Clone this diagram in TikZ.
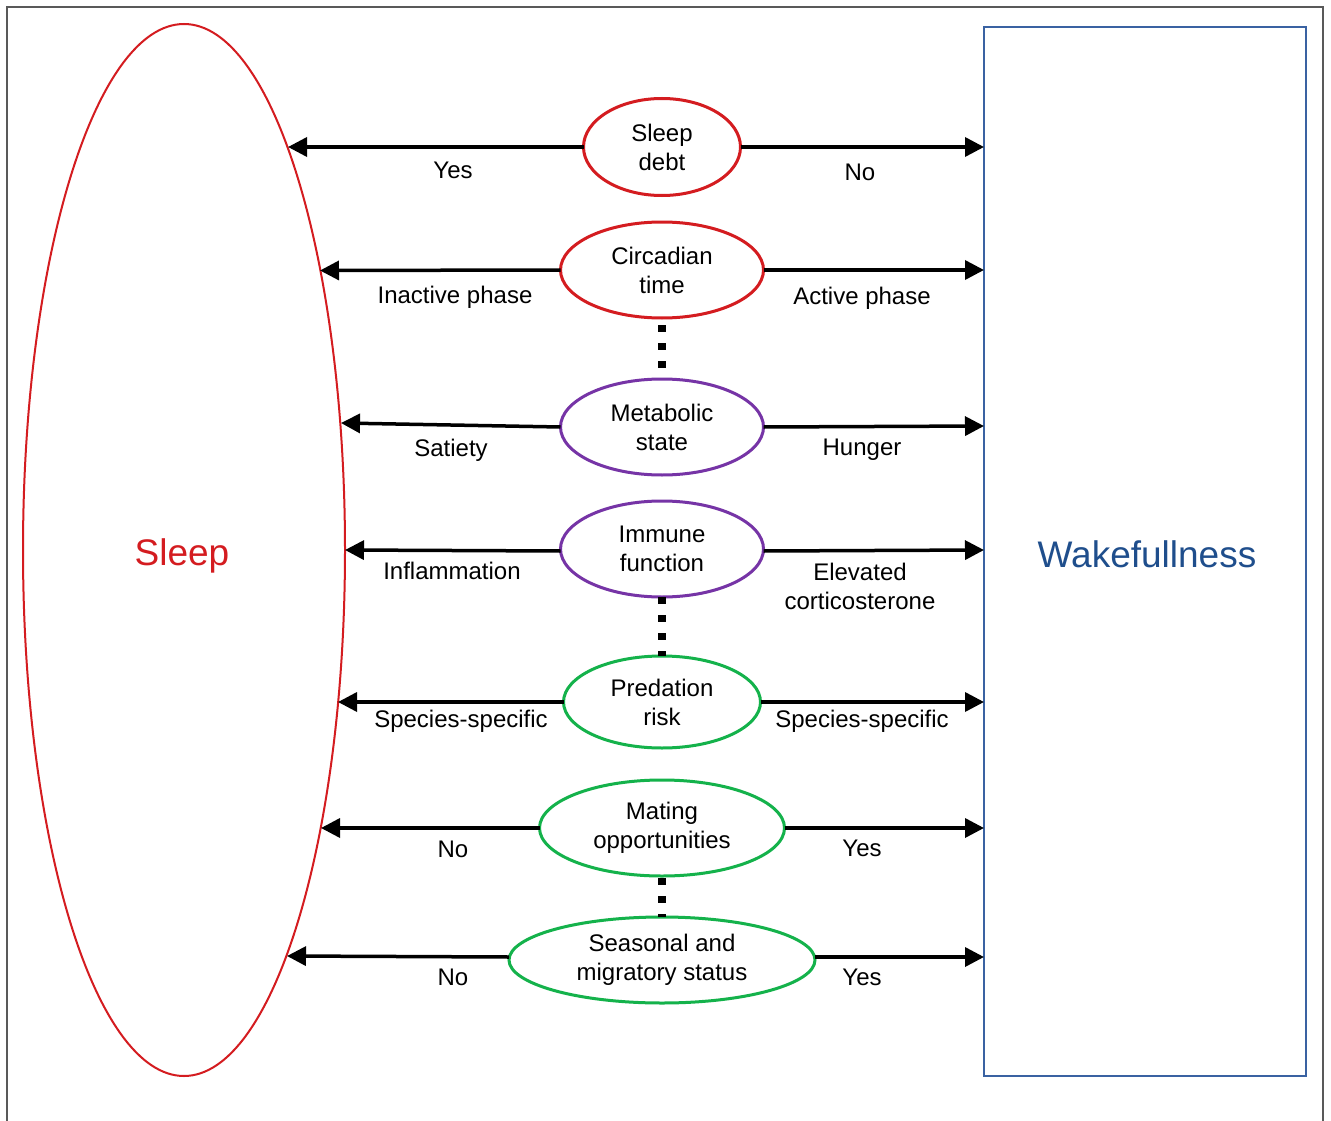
\documentclass[tikz,border=0pt]{standalone}
\usepackage{fontspec}
\setmainfont{Liberation Sans}
\usetikzlibrary{shapes.geometric,arrows.meta}
\definecolor{sred}{RGB}{212,28,32}
\definecolor{spurple}{RGB}{118,52,166}
\definecolor{sgreen}{RGB}{20,178,75}
\definecolor{wblue}{RGB}{58,98,162}
\definecolor{wtext}{RGB}{31,78,140}
\begin{document}
\begin{tikzpicture}[x=1pt,y=-1pt,
  factor/.style={ellipse, draw, line width=3pt, inner sep=0pt, outer sep=0pt, align=center, font=\fontsize{24}{29}\selectfont},
  arr/.style={line width=3.5pt, -{Triangle[length=19pt,width=19pt]}},
  lbl/.style={font=\fontsize{24}{29}\selectfont, inner sep=0pt, align=center},
  biglbl/.style={font=\fontsize{37}{44}\selectfont, inner sep=0pt},
  dotline/.style={line width=8pt, dash pattern=on 7pt off 11pt, dash phase=11pt}]
\useasboundingbox (0,0) rectangle (1331,1121);
\fill[white] (0,0) rectangle (1331,1121);
\draw[black!65, line width=1.3pt] (7,1121) -- (7,7) -- (1323,7) -- (1323,1121);

% big nodes
\node[ellipse, draw=sred, line width=2pt, minimum width=322pt, minimum height=1052pt, inner sep=0pt, outer sep=0pt] (sleep) at (184,550) {};
\node[rectangle, draw=wblue, line width=2.5pt, minimum width=322pt, minimum height=1049pt, inner sep=0pt, outer sep=0pt] (wake) at (1145,551.5) {};
\node[biglbl, text=sred] (sleeplbl) at (182,556) {Sleep};
\node[biglbl, text=wtext] (wakelbl) at (1147,554) {Wakefullness};

% factors
\node[factor, draw=sred, minimum width=157pt, minimum height=97pt] (debt) at (662,147) {Sleep\\debt};
\node[factor, draw=sred, minimum width=203pt, minimum height=96pt] (circ) at (662,270) {Circadian\\time};
\node[factor, draw=spurple, minimum width=203pt, minimum height=96pt] (meta) at (662,427) {Metabolic\\state};
\node[factor, draw=spurple, minimum width=203pt, minimum height=96pt] (immu) at (662,549) {Immune\\function};
\node[factor, draw=sgreen, minimum width=197pt, minimum height=92pt] (pred) at (662,702) {Predation\\risk};
\node[factor, draw=sgreen, minimum width=245pt, minimum height=96pt] (mate) at (662,828) {Mating\\opportunities};
\node[factor, draw=sgreen, minimum width=306pt, minimum height=86pt] (seas) at (662,960) {Seasonal and\\migratory status};

% points on the Sleep ellipse
\coordinate (s1) at (288,147);
\coordinate (s2) at (320,270.5);
\coordinate (s3) at (341,423);
\coordinate (s4) at (345,550);
\coordinate (s5) at (338,702);
\coordinate (s6) at (321,828);
\coordinate (s7) at (287,956);

% arrows
\draw[arr] (debt.west) -- (s1);
\draw[arr] (debt.east) -- (debt.east -| wake.west);
\draw[arr] (circ.west) -- (s2);
\draw[arr] (circ.east) -- (circ.east -| wake.west);
\draw[arr] (meta.west) -- (s3);
\draw[arr] (meta.east) -- ([yshift=1pt]meta.east -| wake.west);
\draw[arr] ([yshift=-2pt]immu.west) -- (s4);
\draw[arr] ([yshift=-2pt]immu.east) -- ([yshift=-1pt]immu.east -| wake.west);
\draw[arr] (pred.west) -- (s5);
\draw[arr] (pred.east) -- (pred.east -| wake.west);
\draw[arr] (mate.west) -- (s6);
\draw[arr] (mate.east) -- (mate.east -| wake.west);
\draw[arr] ([yshift=3pt]seas.west) -- (s7);
\draw[arr] ([yshift=3pt]seas.east) -- ([yshift=3pt]seas.east -| wake.west);

% dotted links
\draw[dotline] (circ.south) -- (meta.north);
\draw[dotline, dash phase=0pt] (immu.south) -- (pred.north);
\draw[dotline, dash phase=16pt] (mate.south) -- (seas.north);

% labels
\node[lbl] (l1) at (453,170) {Yes};
\node[lbl] (r1) at (860,172) {No};
\node[lbl] (l2) at (455,297) {Inactive phase};
\node[lbl] (r2) at (862,298) {Active phase};
\node[lbl] (l3) at (451,450) {Satiety};
\node[lbl] (r3) at (862,450) {Hunger};
\node[lbl] (l4) at (452,571) {Inflammation};
\node[lbl] (r4) at (860,586) {Elevated\\corticosterone};
\node[lbl] (l5) at (461,721) {Species-specific};
\node[lbl] (r5) at (862,721) {Species-specific};
\node[lbl] (l6) at (453,849) {No};
\node[lbl] (r6) at (862,848) {Yes};
\node[lbl] (l7) at (453,977) {No};
\node[lbl] (r7) at (862,977) {Yes};
\end{tikzpicture}
\end{document}
